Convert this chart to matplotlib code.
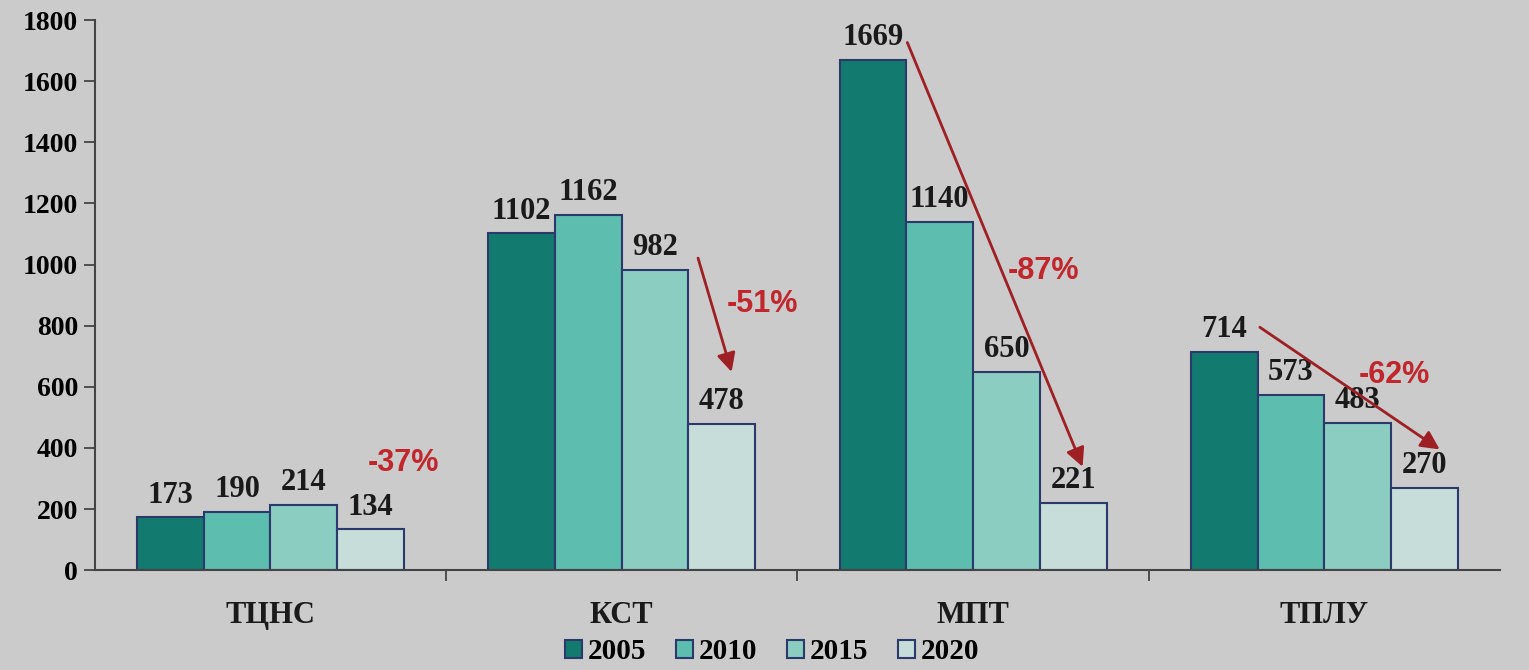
import numpy as np
import matplotlib
matplotlib.use("Agg")
import matplotlib.pyplot as plt

# data
categories = ["ТЦНС", "КСТ", "МПТ", "ТПЛУ"]
years = ["2005", "2010", "2015", "2020"]
v2005 = [173, 1102, 1669, 714]
v2010 = [190, 1162, 1140, 573]
v2015 = [214, 982, 650, 483]
v2020 = [134, 478, 221, 270]
changes = ["-37%", "-51%", "-87%", "-62%"]

series = [v2005, v2010, v2015, v2020]
colors = ["#137a6f", "#5dbdae", "#8ccdc2", "#c6ddd9"]
edge = "#2c3a6b"
bg = "#cbcbcb"
red = "#c0262c"

plt.rcParams["font.family"] = ["Liberation Serif", "DejaVu Serif"]

fig = plt.figure(figsize=(15.29, 6.7), dpi=100, facecolor=bg)
ax = fig.add_axes([0.062, 0.149, 0.919, 0.821])
ax.set_facecolor(bg)

x = np.arange(len(categories))
w = 0.19
for j, vals in enumerate(series):
    pos = x + (j - 1.5) * w
    ax.bar(pos, vals, width=w, color=colors[j], edgecolor=edge,
           linewidth=1.5, label=years[j], zorder=2)
    for p, v in zip(pos, vals):
        ax.text(p, v + 25, str(v), ha="center", va="bottom",
                fontsize=22, fontweight="bold", color="#1a1a1a")

ax.set_xlim(-0.5, 3.5)
ax.set_ylim(0, 1800)
ax.set_yticks(range(0, 1801, 200))
ax.tick_params(axis="y", labelsize=20, length=8, width=1.3, color="#444444", pad=4)
for t in ax.get_yticklabels():
    t.set_fontweight("bold")

# category labels under groups, ticks at group boundaries
ax.set_xticks([0.5, 1.5, 2.5], minor=False)
ax.set_xticklabels([])
ax.tick_params(axis="x", length=8, width=1.3, color="#444444")
for i, c in enumerate(categories):
    ax.text(i, -100, c, ha="center", va="top", fontsize=22,
            fontweight="bold", color="#1a1a1a")

for s in ["top", "right"]:
    ax.spines[s].set_visible(False)
for s in ["left", "bottom"]:
    ax.spines[s].set_color("#444444")
    ax.spines[s].set_linewidth(1.5)

# decline arrows (2005/2015 -> 2020)
arrows = [None,
          ((1 + w + 0.025, 1030), (1 + 1.5 * w + 0.03, 640)),
          ((2 - w, 1735), (2 + 1.5 * w + 0.03, 330)),
          ((3 - w, 800), (3 + 1.5 * w + 0.05, 390))]
pct_pos = [(0.38, 350), (1.40, 870), (2.2, 980), (3.2, 640)]
for i in range(len(categories)):
    if arrows[i] is not None:
        a, b = arrows[i]
        ax.annotate("", xy=b, xytext=a,
                    arrowprops=dict(arrowstyle="-|>", color="#9e1f24",
                                    lw=2, mutation_scale=28), zorder=3)
    ax.text(pct_pos[i][0], pct_pos[i][1], changes[i], ha="center", va="center",
            fontsize=22, fontweight="bold", color=red,
            family=["Liberation Sans", "DejaVu Sans"], zorder=4)

leg = fig.legend(loc="lower center", bbox_to_anchor=(0.505, -0.032), ncol=4,
                 frameon=False, fontsize=21, handlelength=0.6, handleheight=0.6,
                 handletextpad=0.2, columnspacing=1.0)
for t in leg.get_texts():
    t.set_fontweight("bold")

fig.savefig("out.png", dpi=100, facecolor=bg)
